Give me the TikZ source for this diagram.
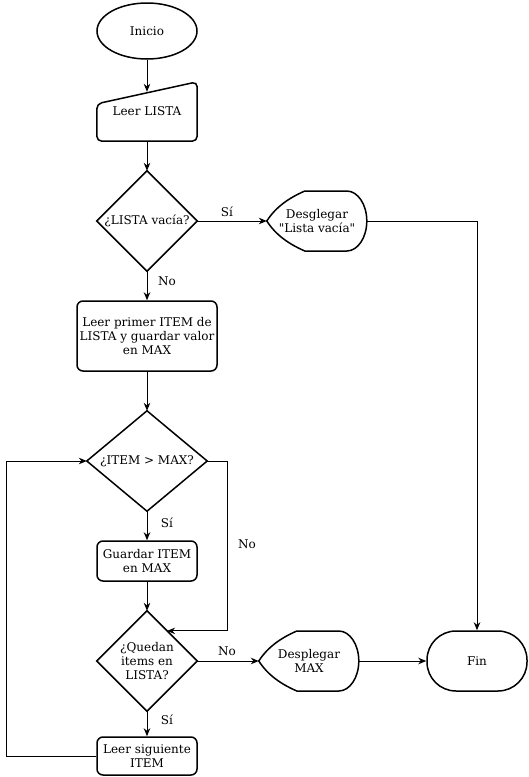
\documentclass[tikz,border=0pt]{standalone}
\usepackage{fontspec}
\setmainfont{DejaVu Serif}[Ligatures=TeXOff]
\usetikzlibrary{arrows.meta,calc,shapes.geometric}

% outlines drawn around plain (undrawn) nodes
\newcommand{\diamondline}[1]{%
  \draw[shapeline] (#1.north) -- (#1.east) -- (#1.south) -- (#1.west) -- cycle;}
\newcommand{\displayline}[1]{%
  \draw[shapeline] (#1.west) .. controls +(9,-14) and +(-16,7) .. ++(38,-30)
    -- ++(42,0) .. controls +(11,0) and +(0,-16.5) .. ++(20,30)
    .. controls +(0,16.5) and +(11,0) .. ++(-20,30) -- ++(-42,0)
    .. controls +(-16,-7) and +(9,14) .. cycle;}
\newcommand{\manualline}[1]{%
  \draw[shapeline,rounded corners=5pt] (#1.south) -- (#1.south west)
    -- ($(#1.north west)+(0,22)$) -- (#1.north east) -- (#1.south east) -- cycle;}

\begin{document}
\begin{tikzpicture}[x=1pt,y=-1pt,
      every node/.style={font=\fontsize{12}{14}\selectfont,align=center,inner sep=0pt},
      shapeline/.style={line width=1.5pt},
      conn/.style={line width=1pt,-{Stealth[length=8pt,width=6.5pt]}},
      box/.style={shapeline,draw,rounded corners=6pt},
      blank/.style={minimum width=100pt,minimum height=#1},
      lbl/.style={}]
      \useasboundingbox (0,0) rectangle (529,777);
      % nodes
      \node[shapeline,draw,ellipse,minimum width=100pt,minimum height=56pt] (inicio) at (147,31) {Inicio};
      \node[blank=59pt] (leer) at (147,111.5) {Leer LISTA};
      \node[blank=100pt] (d1) at (147,221) {¿LISTA vacía?};
      \node[blank=60pt] (disp1) at (317,221) {Desglegar\\"Lista vacía"};
      \node[box,minimum width=140pt,minimum height=70pt] (p1) at (147,336) {Leer primer ITEM de\\LISTA y guardar valor\\en MAX};
      \node[blank=100pt,minimum width=120pt] (d2) at (147,461) {¿ITEM > MAX?};
      \node[box,minimum width=100pt,minimum height=40pt] (p2) at (147,561) {Guardar ITEM\\en MAX};
      \node[blank=100pt] (d3) at (147,661) {¿Quedan\\items en\\LISTA?};
      \node[blank=60pt] (disp2) at (309,661) {Desplegar\\MAX};
      \node[box,rounded corners=29pt,minimum width=100pt,minimum height=60pt] (fin) at (477,661) {Fin};
      \node[box,minimum width=100pt,minimum height=38pt] (p3) at (147,756) {Leer siguiente\\ITEM};
      \manualline{leer}
      \diamondline{d1}
      \diamondline{d2}
      \diamondline{d3}
      \displayline{disp1}
      \displayline{disp2}
      % labels
      \node[lbl] (si1) at (227,212) {Sí};
      \node[lbl] (no1) at (167,281) {No};
      \node[lbl] (si2) at (167,523) {Sí};
      \node[lbl] (no2) at (247,544) {No};
      \node[lbl] (no3) at (227,651) {No};
      \node[lbl] (si3) at (167,720) {Sí};
      % connectors
      \draw[conn] (inicio.south) -- ($(leer.north)+(0,10)$);
      \draw[conn] (leer.south) -- (d1.north);
      \draw[conn] (d1.east) -- (disp1.west);
      \draw[conn] (disp1.east) -| (fin.north);
      \draw[conn] (d1.south) -- (p1.north);
      \draw[conn] (p1.south) -- (d2.north);
      \draw[conn] (d2.south) -- (p2.north);
      \draw[conn] (p2.south) -- (d3.north);
      \draw[conn] (d2.east) -- ++(20,0) |- ($(d3.north)!0.4!(d3.east)$);
      \draw[conn] (d3.east) -- (disp2.west);
      \draw[conn] (disp2.east) -- (fin.west);
      \draw[conn] (d3.south) -- (p3.north);
      \draw[conn] (p3.west) -- ++(-90,0) |- (d2.west);
\end{tikzpicture}
\end{document}
